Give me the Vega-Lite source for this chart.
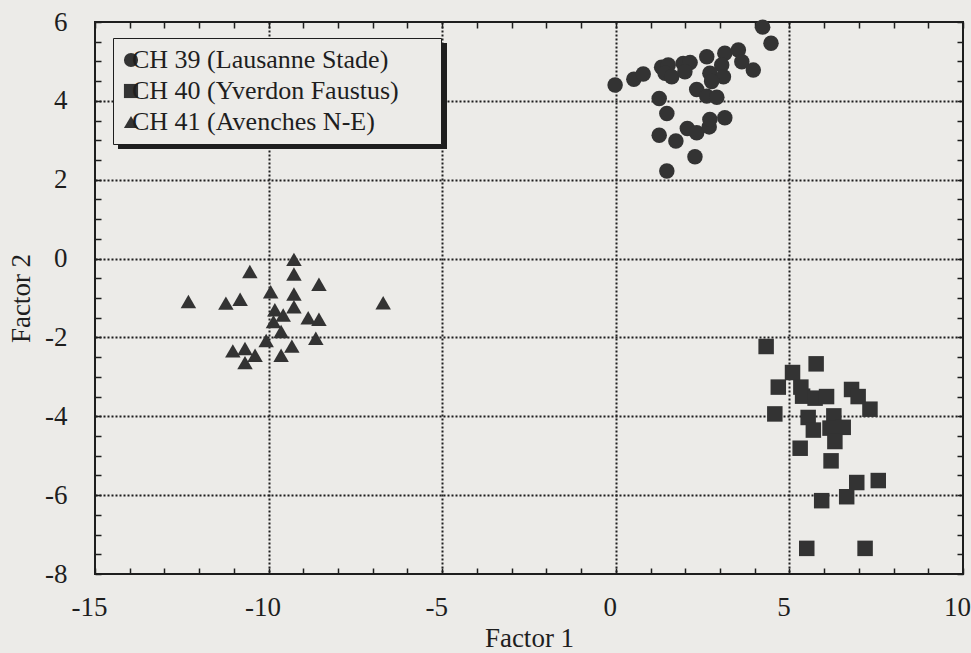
{
  "$schema": "https://vega.github.io/schema/vega-lite/v6.json",
  "width": 868,
  "height": 552,
  "autosize": {"type": "none"},
  "padding": {"left": 95, "top": 22, "right": 8, "bottom": 79},
  "background": "#ecebe8",
  "config": {
    "view": {"stroke": "#1e1e1e", "strokeWidth": 2},
    "font": "Liberation Serif"
  },
  "data": {
    "values": [
      {"site": "CH 39 (Lausanne Stade)", "f1": 4.23, "f2": 5.87},
      {"site": "CH 39 (Lausanne Stade)", "f1": 4.47, "f2": 5.46},
      {"site": "CH 39 (Lausanne Stade)", "f1": -0.02, "f2": 4.40},
      {"site": "CH 39 (Lausanne Stade)", "f1": 0.52, "f2": 4.55},
      {"site": "CH 39 (Lausanne Stade)", "f1": 0.79, "f2": 4.68},
      {"site": "CH 39 (Lausanne Stade)", "f1": 1.32, "f2": 4.85},
      {"site": "CH 39 (Lausanne Stade)", "f1": 1.51, "f2": 4.91},
      {"site": "CH 39 (Lausanne Stade)", "f1": 1.42, "f2": 4.70},
      {"site": "CH 39 (Lausanne Stade)", "f1": 1.61, "f2": 4.61},
      {"site": "CH 39 (Lausanne Stade)", "f1": 1.94, "f2": 4.95},
      {"site": "CH 39 (Lausanne Stade)", "f1": 2.14, "f2": 4.97},
      {"site": "CH 39 (Lausanne Stade)", "f1": 1.99, "f2": 4.74},
      {"site": "CH 39 (Lausanne Stade)", "f1": 2.62, "f2": 5.12},
      {"site": "CH 39 (Lausanne Stade)", "f1": 3.14, "f2": 5.21},
      {"site": "CH 39 (Lausanne Stade)", "f1": 3.53, "f2": 5.29},
      {"site": "CH 39 (Lausanne Stade)", "f1": 3.63, "f2": 4.99},
      {"site": "CH 39 (Lausanne Stade)", "f1": 3.96, "f2": 4.78},
      {"site": "CH 39 (Lausanne Stade)", "f1": 3.05, "f2": 4.91},
      {"site": "CH 39 (Lausanne Stade)", "f1": 2.71, "f2": 4.70},
      {"site": "CH 39 (Lausanne Stade)", "f1": 3.10, "f2": 4.61},
      {"site": "CH 39 (Lausanne Stade)", "f1": 2.76, "f2": 4.49},
      {"site": "CH 39 (Lausanne Stade)", "f1": 2.33, "f2": 4.29},
      {"site": "CH 39 (Lausanne Stade)", "f1": 2.62, "f2": 4.12},
      {"site": "CH 39 (Lausanne Stade)", "f1": 2.91, "f2": 4.09},
      {"site": "CH 39 (Lausanne Stade)", "f1": 1.25, "f2": 4.06},
      {"site": "CH 39 (Lausanne Stade)", "f1": 1.47, "f2": 3.68},
      {"site": "CH 39 (Lausanne Stade)", "f1": 2.06, "f2": 3.30},
      {"site": "CH 39 (Lausanne Stade)", "f1": 2.33, "f2": 3.19},
      {"site": "CH 39 (Lausanne Stade)", "f1": 2.69, "f2": 3.34},
      {"site": "CH 39 (Lausanne Stade)", "f1": 2.71, "f2": 3.53},
      {"site": "CH 39 (Lausanne Stade)", "f1": 3.14, "f2": 3.57},
      {"site": "CH 39 (Lausanne Stade)", "f1": 1.25, "f2": 3.13},
      {"site": "CH 39 (Lausanne Stade)", "f1": 1.73, "f2": 2.98},
      {"site": "CH 39 (Lausanne Stade)", "f1": 2.28, "f2": 2.58},
      {"site": "CH 39 (Lausanne Stade)", "f1": 1.47, "f2": 2.22},
      {"site": "CH 40 (Yverdon Faustus)", "f1": 4.33, "f2": -2.23},
      {"site": "CH 40 (Yverdon Faustus)", "f1": 5.77, "f2": -2.67},
      {"site": "CH 40 (Yverdon Faustus)", "f1": 5.09, "f2": -2.89},
      {"site": "CH 40 (Yverdon Faustus)", "f1": 4.68, "f2": -3.26},
      {"site": "CH 40 (Yverdon Faustus)", "f1": 5.33, "f2": -3.26},
      {"site": "CH 40 (Yverdon Faustus)", "f1": 5.38, "f2": -3.49},
      {"site": "CH 40 (Yverdon Faustus)", "f1": 5.74, "f2": -3.54},
      {"site": "CH 40 (Yverdon Faustus)", "f1": 6.07, "f2": -3.50},
      {"site": "CH 40 (Yverdon Faustus)", "f1": 6.79, "f2": -3.32},
      {"site": "CH 40 (Yverdon Faustus)", "f1": 6.98, "f2": -3.50},
      {"site": "CH 40 (Yverdon Faustus)", "f1": 7.32, "f2": -3.82},
      {"site": "CH 40 (Yverdon Faustus)", "f1": 4.58, "f2": -3.94},
      {"site": "CH 40 (Yverdon Faustus)", "f1": 5.54, "f2": -4.03},
      {"site": "CH 40 (Yverdon Faustus)", "f1": 6.28, "f2": -3.99},
      {"site": "CH 40 (Yverdon Faustus)", "f1": 5.69, "f2": -4.35},
      {"site": "CH 40 (Yverdon Faustus)", "f1": 6.17, "f2": -4.30},
      {"site": "CH 40 (Yverdon Faustus)", "f1": 6.55, "f2": -4.28},
      {"site": "CH 40 (Yverdon Faustus)", "f1": 6.31, "f2": -4.64},
      {"site": "CH 40 (Yverdon Faustus)", "f1": 5.31, "f2": -4.81},
      {"site": "CH 40 (Yverdon Faustus)", "f1": 6.20, "f2": -5.13},
      {"site": "CH 40 (Yverdon Faustus)", "f1": 6.94, "f2": -5.68},
      {"site": "CH 40 (Yverdon Faustus)", "f1": 7.56, "f2": -5.63},
      {"site": "CH 40 (Yverdon Faustus)", "f1": 6.65, "f2": -6.04},
      {"site": "CH 40 (Yverdon Faustus)", "f1": 5.93, "f2": -6.14},
      {"site": "CH 40 (Yverdon Faustus)", "f1": 5.50, "f2": -7.35},
      {"site": "CH 40 (Yverdon Faustus)", "f1": 7.18, "f2": -7.35},
      {"site": "CH 41 (Avenches N-E)", "f1": -12.31, "f2": -1.09},
      {"site": "CH 41 (Avenches N-E)", "f1": -10.54, "f2": -0.33},
      {"site": "CH 41 (Avenches N-E)", "f1": -11.23, "f2": -1.13},
      {"site": "CH 41 (Avenches N-E)", "f1": -10.82, "f2": -1.03},
      {"site": "CH 41 (Avenches N-E)", "f1": -9.27, "f2": -0.02},
      {"site": "CH 41 (Avenches N-E)", "f1": -9.27, "f2": -0.39},
      {"site": "CH 41 (Avenches N-E)", "f1": -9.94, "f2": -0.84},
      {"site": "CH 41 (Avenches N-E)", "f1": -9.27, "f2": -0.90},
      {"site": "CH 41 (Avenches N-E)", "f1": -9.27, "f2": -1.22},
      {"site": "CH 41 (Avenches N-E)", "f1": -8.55, "f2": -0.65},
      {"site": "CH 41 (Avenches N-E)", "f1": -6.70, "f2": -1.12},
      {"site": "CH 41 (Avenches N-E)", "f1": -9.82, "f2": -1.30},
      {"site": "CH 41 (Avenches N-E)", "f1": -9.58, "f2": -1.43},
      {"site": "CH 41 (Avenches N-E)", "f1": -9.86, "f2": -1.60},
      {"site": "CH 41 (Avenches N-E)", "f1": -8.86, "f2": -1.50},
      {"site": "CH 41 (Avenches N-E)", "f1": -8.55, "f2": -1.54},
      {"site": "CH 41 (Avenches N-E)", "f1": -9.64, "f2": -1.85},
      {"site": "CH 41 (Avenches N-E)", "f1": -10.07, "f2": -2.08},
      {"site": "CH 41 (Avenches N-E)", "f1": -8.64, "f2": -2.02},
      {"site": "CH 41 (Avenches N-E)", "f1": -11.03, "f2": -2.34},
      {"site": "CH 41 (Avenches N-E)", "f1": -10.68, "f2": -2.28},
      {"site": "CH 41 (Avenches N-E)", "f1": -10.39, "f2": -2.45},
      {"site": "CH 41 (Avenches N-E)", "f1": -10.68, "f2": -2.64},
      {"site": "CH 41 (Avenches N-E)", "f1": -9.33, "f2": -2.22},
      {"site": "CH 41 (Avenches N-E)", "f1": -9.64, "f2": -2.45}
    ]
  },
  "layer": [
    {
      "mark": {"type": "point", "filled": true, "color": "#333333", "size": 240, "opacity": 1},
      "encoding": {
        "x": {
          "field": "f1", "type": "quantitative",
          "scale": {"domain": [-15, 10], "nice": false, "zero": false},
          "axis": {
            "orient": "bottom",
            "title": "Factor 1",
            "values": [-15,-14,-13,-12,-11,-10,-9,-8,-7,-6,-5,-4,-3,-2,-1,0,1,2,3,4,5,6,7,8,9,10],
            "labelExpr": "datum.value % 5 === 0 ? '' + datum.value : ''",
            "labelOverlap": false,
            "labelFlush": false,
            "labelBound": false,
            "labelFontSize": 27,
            "labelColor": "#1e1e1e",
            "labelPadding": 26,
            "labelOffset": -6,
            "domain": false,
            "tickSize": -6,
            "tickColor": "#1e1e1e",
            "tickWidth": 1.5,
            "grid": true,
            "gridColor": "#1e1e1e",
            "gridWidth": 2,
            "gridDash": [2, 2],
            "gridOpacity": {"condition": {"test": "datum.value % 5 === 0 && datum.value > -15 && datum.value < 10", "value": 1}, "value": 0},
            "titleFontSize": 27,
            "titleFontWeight": "normal",
            "titleColor": "#1e1e1e",
            "titlePadding": 5
          }
        },
        "y": {
          "field": "f2", "type": "quantitative",
          "scale": {"domain": [-8, 6], "nice": false, "zero": false},
          "axis": {
            "orient": "left",
            "title": "Factor 2",
            "values": [-8,-7.5,-7,-6.5,-6,-5.5,-5,-4.5,-4,-3.5,-3,-2.5,-2,-1.5,-1,-0.5,0,0.5,1,1.5,2,2.5,3,3.5,4,4.5,5,5.5,6],
            "labelExpr": "datum.value % 2 === 0 ? '' + datum.value : ''",
            "labelOverlap": false,
            "labelFlush": false,
            "labelBound": false,
            "labelFontSize": 27,
            "labelColor": "#1e1e1e",
            "labelPadding": 34,
            "domain": false,
            "tickSize": -6,
            "tickColor": "#1e1e1e",
            "tickWidth": 1.5,
            "grid": true,
            "gridColor": "#1e1e1e",
            "gridWidth": 2,
            "gridDash": [2, 2],
            "gridOpacity": {"condition": {"test": "datum.value % 2 === 0 && datum.value > -8 && datum.value < 6", "value": 1}, "value": 0},
            "titleFontSize": 27,
            "titleFontWeight": "normal",
            "titleColor": "#1e1e1e",
            "titlePadding": 9
          }
        },
        "shape": {
          "field": "site", "type": "nominal",
          "scale": {
            "domain": ["CH 39 (Lausanne Stade)", "CH 40 (Yverdon Faustus)", "CH 41 (Avenches N-E)"],
            "range": ["circle", "square", "triangle-up"]
          },
          "legend": {
            "title": null,
            "orient": "none",
            "legendX": 18,
            "legendY": 16,
            "zindex": 3,
            "fillColor": "#ecebe8",
            "strokeColor": "#1e1e1e",
            "padding": 9,
            "rowPadding": 5,
            "symbolSize": 200,
            "symbolFillColor": "#333333",
            "symbolStrokeWidth": 0,
            "symbolOffset": -4,
            "labelOffset": -12,
            "labelFontSize": 26,
            "labelFont": "Liberation Serif",
            "labelColor": "#1e1e1e",
            "labelLimit": 500,
            "labelExpr": "datum.label + '\u00a0\u00a0\u00a0\u00a0\u00a0\u200b'",
            "encode": {"legend": {"update": {"strokeWidth": {"value": 2.5}}}}
          }
        }
      }
    },
    {
      "mark": {"type": "point", "fillOpacity": 0, "strokeOpacity": 0},
      "encoding": {
        "x": {
          "field": "f1", "type": "quantitative",
          "scale": {"domain": [-15, 10], "nice": false, "zero": false},
          "axis": {
            "orient": "top",
            "title": null,
            "labels": false,
            "grid": false,
            "domain": false,
            "values": [-15,-14,-13,-12,-11,-10,-9,-8,-7,-6,-5,-4,-3,-2,-1,0,1,2,3,4,5,6,7,8,9,10],
            "tickSize": -6,
            "tickColor": "#1e1e1e",
            "tickWidth": 1.5
          }
        },
        "y": {
          "field": "f2", "type": "quantitative",
          "scale": {"domain": [-8, 6], "nice": false, "zero": false},
          "axis": {
            "orient": "right",
            "title": null,
            "labels": false,
            "grid": false,
            "domain": false,
            "values": [-8,-7.5,-7,-6.5,-6,-5.5,-5,-4.5,-4,-3.5,-3,-2.5,-2,-1.5,-1,-0.5,0,0.5,1,1.5,2,2.5,3,3.5,4,4.5,5,5.5,6],
            "tickSize": -6,
            "tickColor": "#1e1e1e",
            "tickWidth": 1.5
          }
        },
        "color": {
          "field": "f1", "type": "quantitative",
          "scale": {"range": ["#1e1e1e", "#1e1e1e"]},
          "legend": {
            "title": null,
            "orient": "none",
            "direction": "horizontal",
            "legendX": 23,
            "legendY": 21,
            "zindex": 1,
            "padding": 0,
            "gradientLength": 329,
            "gradientThickness": 106,
            "gradientStrokeColor": "#1e1e1e",
            "gradientStrokeWidth": 0,
            "labelExpr": "''",
            "labelOpacity": 0,
            "encode": {"gradient": {"update": {"opacity": {"value": 1}}}}
          }
        }
      }
    }
  ],
  "resolve": {"axis": {"x": "independent", "y": "independent"}}
}
